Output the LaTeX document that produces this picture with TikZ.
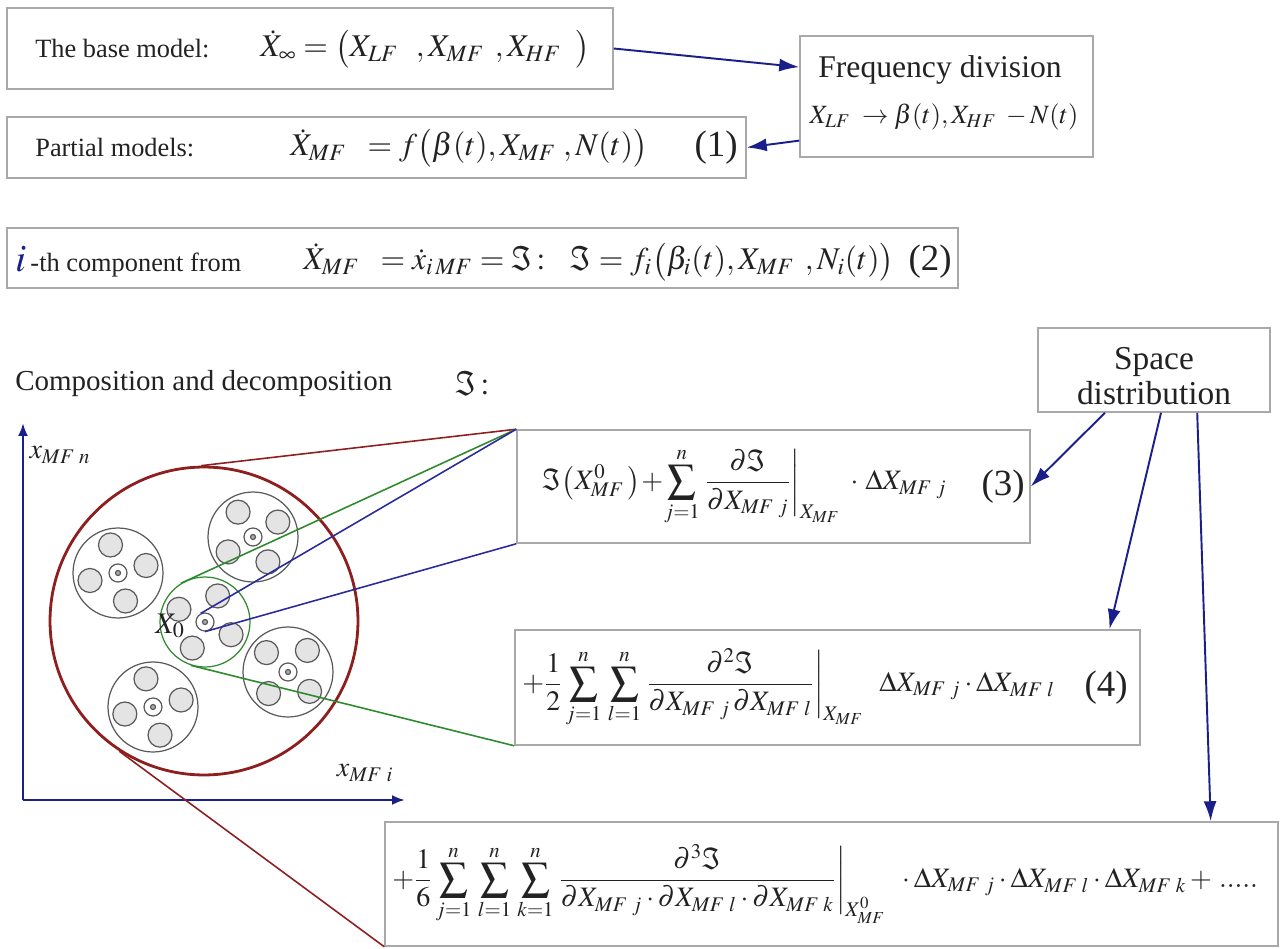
\documentclass[tikz,border=0pt]{standalone}
\usepackage{amsmath}
\usepackage{mathptmx}
\usepackage{fontspec}
\setmainfont{Liberation Serif}
\newfontfamily\timesrm{Liberation Serif}
\usetikzlibrary{arrows.meta,calc}
\definecolor{boxborder}{HTML}{A9A9A9}
\definecolor{arrowblue}{HTML}{1B1F8A}
\definecolor{conered}{HTML}{8E1F1F}
\definecolor{conegreen}{HTML}{2F8A2F}
\definecolor{coneblue}{HTML}{2B2B9C}
\definecolor{cellgray}{HTML}{5A5A5A}
\definecolor{cellfill}{HTML}{E4E4E4}
\definecolor{textdark}{HTML}{222222}
\newcommand{\fsz}[2]{\fontsize{#1}{#2}\selectfont}
\tikzset{
  card/.style={rectangle, draw=boxborder, line width=0.9pt, fill=white, inner sep=0pt},
  caption/.style={font=\timesrm\fsz{15}{18}, text=textdark, inner sep=0pt},
  heading/.style={font=\timesrm\fsz{18}{22}, text=textdark, align=center, inner sep=0pt},
  formula/.style={font=\timesrm\fsz{18}{21}, text=textdark, inner sep=0pt},
  taylor/.style={font=\timesrm\fsz{16}{20}, text=textdark, inner sep=0pt},
  eqno/.style={font=\timesrm\fsz{21}{24}, text=textdark, inner sep=0pt},
  flow/.style={-{Latex[length=4mm,width=2.6mm]}, line width=1.1pt, draw=arrowblue},
  axis/.style={-{Latex[length=2.6mm,width=2mm]}, line width=1.4pt, draw=arrowblue},
  cell/.style={circle, draw=cellgray, line width=0.7pt, inner sep=0pt},
  cone/.style={line width=0.9pt}
}

\begin{document}
\begin{tikzpicture}[x=0.02cm, y=0.02cm]
\useasboundingbox (0,0) rectangle (1282,-949);

% Models and frequency division
\node[card, minimum width=12.12cm, minimum height=1.62cm] (basebox) at (310,-48.5) {};
\node[caption, anchor=west] (basetxt) at (35,-49) {The base model:};
\node[formula, anchor=west] (basefml) at (260,-49) {$\dot X_{\infty} = \bigl(X_{LF}\;\;\,, X_{MF}\;\,, X_{HF}\;\;\bigr)$};

\node[card, minimum width=5.86cm, minimum height=2.42cm] (freqbox) at (946.5,-96.5) {};
\node[heading] (freqtxt) at (940,-70) {Frequency division};
\node[formula, font=\timesrm\fsz{15}{18}] (freqfml) at (944,-117) {$X_{LF}\;\to\beta(t), X_{HF}\;-N(t)$};

\node[card, minimum width=14.78cm, minimum height=1.22cm] (partialbox) at (376.5,-147.5) {};
\node[caption, anchor=west] (partialtxt) at (35,-148) {Partial models:};
\node[formula, anchor=west] (partialfml) at (290,-148) {$\dot X_{MF}\;\;= f\bigl(\beta(t), X_{MF}\;, N(t)\bigr)$};
\node[eqno, anchor=east] (eqone) at (738,-148) {(1)};

\node[card, minimum width=19.02cm, minimum height=1.2cm] (icompbox) at (482.5,-258) {};
\node[caption, anchor=west] (icomptxt) at (15,-262) {{\color{arrowblue}\fsz{22}{26}$i$}\,-th component from};
\node[formula, anchor=west] (icompfml) at (303,-262) {$\dot X_{MF}\;\;= \dot x_{i\,MF} = \Im\colon\;\; \Im = f_i\bigl(\beta_i(t), X_{MF}\;\,, N_i(t)\bigr)$};
\node[eqno, anchor=east] (eqtwo) at (952,-262) {(2)};

% Composition and decomposition
\node[caption, font=\timesrm\fsz{16.5}{20}, anchor=west] (comptxt) at (15,-384) {Composition and decomposition};
\node[formula, anchor=west] (compsym) at (455,-384) {$\Im\colon$};

\node[card, minimum width=4.64cm, minimum height=1.68cm] (spacebox) at (1154,-370) {};
\node[heading, font=\timesrm\fsz{19}{20}] (spacetxt) at (1154,-376) {Space\\distribution};

% Taylor terms
\node[card, minimum width=10.26cm, minimum height=2.26cm] (eqthree) at (773.5,-486.5) {};
\node[taylor, anchor=west] (threefml) at (542,-487) {$\displaystyle \Im\bigl(X^{0}_{MF}\,\bigr)\!+\!\sum_{j=1}^{n}\left.\frac{\partial\Im}{\partial X_{MF\;j}}\right|_{X_{MF}}\;\cdot\,\Delta X_{MF\;j}$};
\node[eqno, anchor=east] (eqnthree) at (1025,-487) {(3)};

\node[card, minimum width=12.5cm, minimum height=2.3cm] (eqfour) at (827.5,-687.5) {};
\node[taylor, anchor=west] (fourfml) at (522,-688) {$\displaystyle +\frac{1}{2}\sum_{j=1}^{n}\,\sum_{l=1}^{n}\left.\frac{\partial^{2}\Im}{\partial X_{MF\;j}\,\partial X_{MF\;l}}\right|_{X_{MF}}\;\;\Delta X_{MF\;j}\cdot\Delta X_{MF\;l}$};
\node[eqno, anchor=east] (eqnfour) at (1128,-688) {(4)};

\node[card, minimum width=17.86cm, minimum height=2.48cm] (eqfive) at (831.5,-884) {};
\node[taylor, anchor=west] (fivefml) at (392,-884) {$\displaystyle +\frac{1}{6}\sum_{j=1}^{n}\,\sum_{l=1}^{n}\,\sum_{k=1}^{n}\left.\frac{\partial^{3}\Im}{\partial X_{MF\;j}\cdot\partial X_{MF\;l}\cdot\partial X_{MF\;k}}\right|_{X^{0}_{MF}}\;\;\cdot\Delta X_{MF\;j}\cdot\Delta X_{MF\;l}\cdot\Delta X_{MF\;k}+\,.....$};

% Phase space with nested clusters
\coordinate (origin) at (23,-800);
\coordinate (ytip) at (23,-423);
\coordinate (xtip) at (405,-800);
\draw[axis] (origin) -- (ytip);
\draw[axis] (origin) -- (xtip);
\node[formula, font=\timesrm\fsz{16}{19}] (ylab) at (60,-455) {$x_{MF\;n}$};
\node[formula, font=\timesrm\fsz{16}{19}] (xlab) at (365,-773) {$x_{MF\;i}$};

\node[circle, draw=conered, line width=1.6pt, minimum size=6.16cm, inner sep=0pt] (bigzone) at (204,-621) {};
\foreach \cx/\cy/\rot/\col [count=\k] in {118/573/15/cellgray, 253/537/31/cellgray, 288/672/48/cellgray, 153/707/14/cellgray, 205/622/64/conegreen} {
  \node[cell, draw=\col, minimum size=1.8cm] (cl\k) at (\cx,-\cy) {};
  \foreach \a in {0,90,180,270}
    \node[cell, fill=cellfill, minimum size=0.48cm] at ($(cl\k)+(\rot+\a:29)$) {};
  \node[cell, minimum size=0.36cm] (core\k) at (cl\k) {};
  \node[cell, fill=cellgray!50, minimum size=0.1cm] at (cl\k) {};
}
\node[formula, font=\timesrm\fsz{17}{19}] (xzero) at (170,-626) {$X_0$};

% Cones towards the Taylor terms
\draw[cone, conered] (bigzone.91) -- (eqthree.north west);
\draw[cone, conered] (bigzone.237) -- (eqfive.south west);
\draw[cone, conegreen] (cl5.122) -- (eqthree.north west);
\draw[cone, conegreen] (cl5.252) -- (eqfour.south west);
\draw[cone, coneblue] (core5.117) -- (eqthree.north west);
\draw[cone, coneblue] (core5.270) -- (eqthree.south west);

% Flow
\draw[flow] (basebox.east) -- ($(freqbox.north west)!0.26!(freqbox.south west)$);
\draw[flow] ($(freqbox.north west)!0.86!(freqbox.south west)$) -- (partialbox.east);
\draw[flow] ($(spacebox.south west)!0.29!(spacebox.south east)$) -- (eqthree.east);
\draw[flow] ($(spacebox.south west)!0.53!(spacebox.south east)$) -- ($(eqfour.north west)!0.95!(eqfour.north east)$);
\draw[flow] ($(spacebox.south west)!0.685!(spacebox.south east)$) -- ($(eqfive.north west)!0.924!(eqfive.north east)$);

\end{tikzpicture}
\end{document}
